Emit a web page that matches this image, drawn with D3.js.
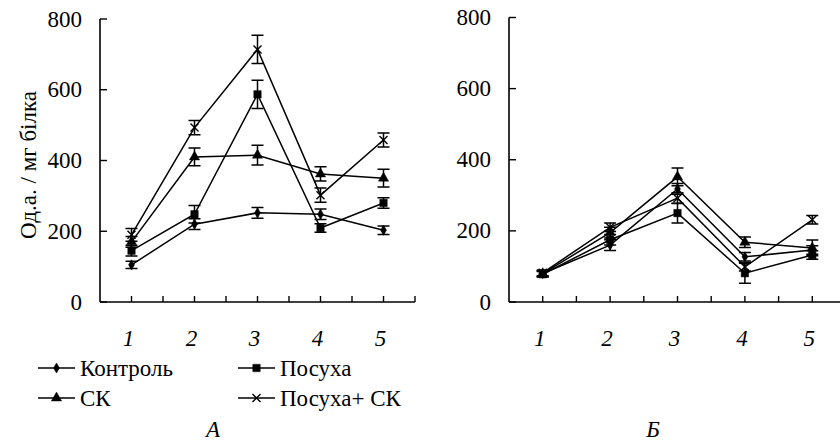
<!DOCTYPE html>
<html>
<head>
<meta charset="utf-8">
<title>Chart</title>
<script src="https://cdn.jsdelivr.net/npm/d3@7"></script>
<style>
  body { margin: 0; background: #fff; }
</style>
</head>
<body>
<svg id="chart" width="840" height="445"></svg>
<script>
// categories (x axis)
var categories = ["1", "2", "3", "4", "5"];
var yTicks = [0, 200, 400, 600, 800];
var seriesNames = ["Контроль", "Посуха", "СК", "Посуха+ СК"];
var seriesSymbols = ["diamond", "square", "triangle", "cross"];

// panel A
var aControl = [105, 220, 252, 248, 203];
var aControlErr = [10, 15, 15, 15, 12];
var aDrought = [145, 248, 587, 209, 280];
var aDroughtErr = [15, 25, 40, 12, 15];
var aSK = [170, 410, 415, 362, 350];
var aSKErr = [15, 25, 28, 20, 25];
var aDroughtSK = [190, 493, 714, 302, 458];
var aDroughtSKErr = [18, 20, 40, 20, 20];

// panel Б
var bControl = [80, 160, 318, 127, 146];
var bControlErr = [8, 15, 15, 12, 12];
var bDrought = [78, 175, 250, 81, 132];
var bDroughtErr = [8, 15, 28, 28, 12];
var bSK = [80, 195, 352, 168, 152];
var bSKErr = [8, 15, 25, 15, 22];
var bDroughtSK = [82, 210, 292, 99, 231];
var bDroughtSKErr = [8, 12, 15, 12, 12];

var svg = d3.select("#chart");
var FONT = "'Liberation Serif'";
var FS = "23px";

function symbolPath(type) {
  if (type === "diamond") return d3.symbol().type(d3.symbolDiamond).size(30)();
  if (type === "square") return d3.symbol().type(d3.symbolSquare).size(55)();
  if (type === "triangle") return d3.symbol().type(d3.symbolTriangle).size(45)();
  return "M-4,-4L4,4M-4,4L4,-4";
}

function drawPanel(opts) {
  var g = svg.append("g");
  var x = d3.scaleBand().domain(categories).range([opts.x0, opts.x1]).padding(0);
  var y = d3.scaleLinear().domain([0, 800]).range([302, opts.yTop]);

  // y axis
  g.append("line").attr("x1", opts.x0).attr("x2", opts.x0)
    .attr("y1", y(0)).attr("y2", y(800))
    .attr("stroke", "#000").attr("stroke-width", 1.6);
  g.selectAll(".yt").data(yTicks).enter().append("line")
    .attr("x1", opts.x0).attr("x2", opts.x0 + 7)
    .attr("y1", function(d) { return y(d); }).attr("y2", function(d) { return y(d); })
    .attr("stroke", "#000").attr("stroke-width", 1.4);
  g.selectAll(".yl").data(yTicks).enter().append("text")
    .attr("x", opts.x0 - 18).attr("y", function(d) { return y(d); })
    .attr("dy", "0.33em").attr("text-anchor", "end")
    .style("font-family", FONT).style("font-size", FS)
    .text(function(d) { return d; });

  // x axis
  g.append("line").attr("x1", opts.x0).attr("x2", opts.x1)
    .attr("y1", y(0)).attr("y2", y(0))
    .attr("stroke", "#000").attr("stroke-width", 1.6);
  var tickPos = [];
  categories.forEach(function(c) {
    tickPos.push(x(c) + x.bandwidth() / 2);
    tickPos.push(x(c) + x.bandwidth());
  });
  g.selectAll(".xt").data(tickPos).enter().append("line")
    .attr("x1", function(d) { return d; }).attr("x2", function(d) { return d; })
    .attr("y1", y(0)).attr("y2", y(0) - 6)
    .attr("stroke", "#000").attr("stroke-width", 1.4);
  g.selectAll(".xl").data(categories).enter().append("text")
    .attr("x", function(d) { return x(d) + x.bandwidth() / 2 - 3; })
    .attr("y", 346)
    .attr("text-anchor", "middle")
    .style("font-family", FONT).style("font-size", FS).style("font-style", "italic")
    .text(function(d) { return d; });

  var line = d3.line()
    .x(function(d, i) { return x(categories[i]) + x.bandwidth() / 2; })
    .y(function(d) { return y(d); });

  opts.series.forEach(function(s, k) {
    g.append("path").attr("d", line(s.values))
      .attr("fill", "none").attr("stroke", "#000").attr("stroke-width", 1.5);
    var pts = g.selectAll(null).data(s.values).enter().append("g")
      .attr("transform", function(d, i) {
        return "translate(" + (x(categories[i]) + x.bandwidth() / 2) + "," + y(d) + ")";
      });
    pts.append("path")
      .attr("d", function(d, i) {
        var top = y(d + s.err[i]) - y(d), bot = y(d - s.err[i]) - y(d);
        return "M0," + top + "V" + bot + "M-6," + top + "H6M-6," + bot + "H6";
      })
      .attr("fill", "none").attr("stroke", "#000").attr("stroke-width", 1.5);
    pts.append("path")
      .attr("d", symbolPath(seriesSymbols[k]))
      .attr("fill", seriesSymbols[k] === "cross" ? "none" : "#000")
      .attr("stroke", "#000").attr("stroke-width", seriesSymbols[k] === "cross" ? 1.4 : 0.5);
  });

  svg.append("text").attr("x", opts.labelX).attr("y", 437)
    .attr("text-anchor", "middle")
    .style("font-family", FONT).style("font-size", FS).style("font-style", "italic")
    .text(opts.label);
}

drawPanel({
  x0: 100, x1: 415, yTop: 19, labelX: 213, label: "А",
  series: [
    { values: aControl, err: aControlErr },
    { values: aDrought, err: aDroughtErr },
    { values: aSK, err: aSKErr },
    { values: aDroughtSK, err: aDroughtSKErr }
  ]
});

drawPanel({
  x0: 509, x1: 846, yTop: 17.5, labelX: 653, label: "Б",
  series: [
    { values: bControl, err: bControlErr },
    { values: bDrought, err: bDroughtErr },
    { values: bSK, err: bSKErr },
    { values: bDroughtSK, err: bDroughtSKErr }
  ]
});

// y axis title
svg.append("text")
  .attr("transform", "translate(36,165) rotate(-90)")
  .attr("text-anchor", "middle")
  .style("font-family", FONT).style("font-size", FS)
  .text("Од.а. / мг білка");

// legend
var legendPos = [[38, 368], [238, 368], [38, 398], [238, 398]];
seriesNames.forEach(function(name, k) {
  var lg = svg.append("g").attr("transform", "translate(" + legendPos[k][0] + "," + legendPos[k][1] + ")");
  lg.append("line").attr("x1", 0).attr("x2", 37).attr("y1", 0).attr("y2", 0)
    .attr("stroke", "#000").attr("stroke-width", 1.5);
  lg.append("path").attr("transform", "translate(18.5,0)")
    .attr("d", symbolPath(seriesSymbols[k]))
    .attr("fill", seriesSymbols[k] === "cross" ? "none" : "#000")
    .attr("stroke", "#000").attr("stroke-width", seriesSymbols[k] === "cross" ? 1.4 : 0.5);
  lg.append("text").attr("x", 42).attr("y", 0).attr("dy", "0.33em")
    .style("font-family", FONT).style("font-size", FS)
    .text(name);
});
</script>
</body>
</html>
